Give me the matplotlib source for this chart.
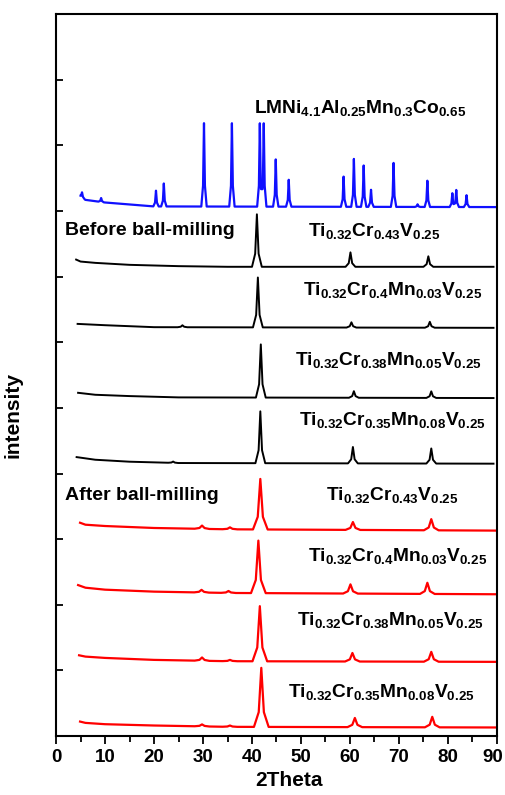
import numpy as np
import matplotlib
matplotlib.use('Agg')
import matplotlib.pyplot as plt
from matplotlib.transforms import ScaledTranslation

plt.rcParams['font.family'] = ['Liberation Sans', 'DejaVu Sans']
plt.rcParams['font.weight'] = 'bold'
plt.rcParams['mathtext.fontset'] = 'custom'
plt.rcParams['mathtext.rm'] = 'Liberation Sans:bold'
plt.rcParams['mathtext.bf'] = 'Liberation Sans:bold'
plt.rcParams['mathtext.it'] = 'Liberation Sans:bold'

# sample names, top to bottom
labels = [r'LMNi$_{4.1}$Al$_{0.25}$Mn$_{0.3}$Co$_{0.65}$',
          r'Ti$_{0.32}$Cr$_{0.43}$V$_{0.25}$',
          r'Ti$_{0.32}$Cr$_{0.4}$Mn$_{0.03}$V$_{0.25}$',
          r'Ti$_{0.32}$Cr$_{0.38}$Mn$_{0.05}$V$_{0.25}$',
          r'Ti$_{0.32}$Cr$_{0.35}$Mn$_{0.08}$V$_{0.25}$',
          r'Ti$_{0.32}$Cr$_{0.43}$V$_{0.25}$',
          r'Ti$_{0.32}$Cr$_{0.4}$Mn$_{0.03}$V$_{0.25}$',
          r'Ti$_{0.32}$Cr$_{0.38}$Mn$_{0.05}$V$_{0.25}$',
          r'Ti$_{0.32}$Cr$_{0.35}$Mn$_{0.08}$V$_{0.25}$']

# baseline level of each pattern (stacked)
offsets = [8.06, 7.15, 6.22, 5.15, 4.15, 3.13, 2.16, 1.13, 0.13]

# background (2theta, intensity above baseline)
bg_x = [[5.0, 6.0, 10, 15, 20, 90],
        [4.1, 5.0, 8, 15, 25, 35, 89.3],
        [4.4, 10, 20, 89.3],
        [4.5, 8, 15, 25, 89.3],
        [4.2, 8, 15, 25, 89.3],
        [4.9, 6, 10, 20, 35, 90],
        [4.5, 6, 10, 20, 35, 90],
        [4.7, 6, 10, 20, 35, 90],
        [4.9, 6, 10, 20, 35, 90]]
bg_y = [[0.16, 0.11, 0.07, 0.04, 0.01, 0.0],
        [0.11, 0.08, 0.06, 0.03, 0.01, 0.0, 0.0],
        [0.06, 0.04, 0.01, 0.0],
        [0.08, 0.05, 0.03, 0.01, 0.0],
        [0.10, 0.06, 0.03, 0.01, 0.0],
        [0.12, 0.09, 0.07, 0.04, 0.02, 0.0],
        [0.14, 0.10, 0.07, 0.04, 0.02, 0.0],
        [0.10, 0.08, 0.06, 0.03, 0.01, 0.0],
        [0.09, 0.07, 0.05, 0.03, 0.01, 0.0]]

# peak positions (2theta) and heights
peak_pos = [[5.3, 9.2, 20.4, 22.0, 30.2, 35.9, 41.6, 42.4, 44.85, 47.5, 58.7, 60.8,
             62.8, 64.3, 68.9, 73.8, 75.8, 80.9, 81.7, 83.8],
            [41.0, 60.1, 76.0],
            [25.8, 41.2, 60.3, 76.3],
            [41.8, 60.8, 76.6],
            [23.9, 41.7, 60.6, 76.6],
            [29.8, 35.5, 41.7, 60.6, 76.6],
            [29.7, 35.2, 41.3, 60.1, 75.8],
            [29.8, 35.5, 41.6, 60.5, 76.6],
            [29.8, 35.5, 41.9, 61.0, 76.8]]
peak_h = [[0.08, 0.06, 0.24, 0.35, 1.27, 1.27, 1.27, 1.27, 0.72, 0.41, 0.46, 0.73,
           0.63, 0.26, 0.67, 0.04, 0.40, 0.21, 0.26, 0.18],
          [0.80, 0.22, 0.16],
          [0.03, 0.76, 0.08, 0.09],
          [0.81, 0.10, 0.10],
          [0.02, 0.79, 0.25, 0.23],
          [0.05, 0.03, 0.77, 0.12, 0.17],
          [0.04, 0.03, 0.80, 0.14, 0.17],
          [0.05, 0.02, 0.84, 0.13, 0.15],
          [0.03, 0.02, 0.90, 0.14, 0.16]]

colors = ['#1010ff'] + ['black'] * 4 + ['#ff0000'] * 4
widths = [0.55] + [1.0] * 4 + [1.5] * 4
lws = [1.6] + [1.4] * 4 + [1.6] * 4
label_x = [40.4, 51.4, 50.4, 48.8, 49.6, 55.1, 51.4, 49.1, 47.4]
label_y = [9.50, 7.62, 6.72, 5.66, 4.74, 3.60, 2.67, 1.69, 0.60]

fig = plt.figure(figsize=(5.05, 7.95), dpi=100)
ax = fig.add_axes([0.111, 0.0742, 0.873, 0.908])

for i in range(len(offsets)):
    w = widths[i]
    xs = list(bg_x[i])
    shapes = []
    for p, h in zip(peak_pos[i], peak_h[i]):
        px = [p - w, p - 0.35 * w, p, p + 0.35 * w, p + w]
        py = [0, 0.25 * h, h, 0.25 * h, 0]
        shapes.append((px, py))
        xs += px
    xs = np.array(sorted(set(xs)))
    xs = xs[(xs >= bg_x[i][0]) & (xs <= bg_x[i][-1])]
    ys = np.interp(xs, bg_x[i], bg_y[i])
    for px, py in shapes:
        ys = ys + np.interp(xs, px, py, left=0, right=0)
    ax.plot(xs, ys + offsets[i], color=colors[i], lw=lws[i])
    ax.text(label_x[i], label_y[i], labels[i], fontsize=13.8, fontweight='bold',
            ha='left', va='baseline')

ax.text(1.9, 7.64, 'Before ball-milling', fontsize=14, fontweight='bold', va='baseline')
ax.text(1.8, 3.60, 'After ball-milling', fontsize=14, fontweight='bold', va='baseline')

ax.set_xlim(0, 90)
ax.set_ylim(0, 11)
ax.set_xticks(np.arange(0, 91, 10))
ax.set_xticks(np.arange(0, 91, 5), minor=True)
ax.set_yticks(np.arange(0, 12, 1))
ax.set_yticklabels([])
ax.tick_params(axis='x', which='major', direction='out', length=6, width=1.3,
               labelsize=13.5, pad=3)
ax.tick_params(axis='x', which='minor', direction='out', length=4, width=1.3)
ax.tick_params(axis='y', which='major', direction='in', length=5, width=1.3)
for lab in ax.get_xticklabels():
    lab.set_fontweight('bold')
# keep "90" inside the figure edge
last = ax.get_xticklabels()[-1]
last.set_transform(last.get_transform() + ScaledTranslation(-3 / 72, 0, fig.dpi_scale_trans))
for s in ax.spines.values():
    s.set_linewidth(1.5)

ax.set_xlabel('2Theta', fontsize=15, fontweight='bold')
ax.set_ylabel('intensity', fontsize=15, fontweight='bold')
ax.xaxis.set_label_coords(0.528, -0.048)
ax.yaxis.set_label_coords(-0.075, 0.445)

fig.savefig('out.png', dpi=100)
